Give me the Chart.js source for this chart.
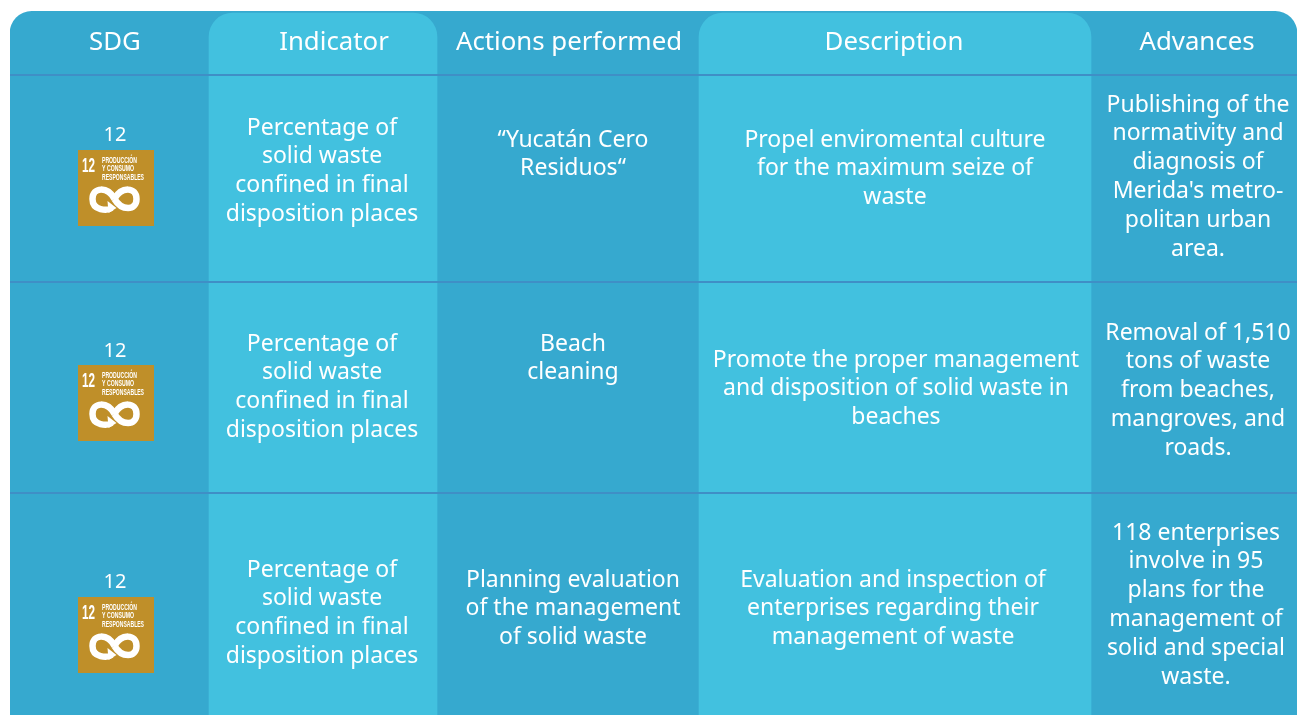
<!DOCTYPE html>
<html>
<head>
<meta charset="utf-8">
<title>SDG 12 actions</title>
<script src="https://cdn.jsdelivr.net/npm/chart.js@4/dist/chart.umd.min.js"></script>
<style>
    html, body { margin: 0; padding: 0; background: #fff; overflow: hidden; }
    canvas { display: block; }
</style>
</head>
<body>
<canvas id="tabla" width="1297" height="715"></canvas>
<script>
// table contents
const headers = ["SDG", "Indicator", "Actions performed", "Description", "Advances"];
const sdgNumbers = ["12", "12", "12"];
const iconLines = ["PRODUCCIÓN", "Y CONSUMO", "RESPONSABLES"];
const indicators = [
    ["Percentage of", "solid waste", "confined in final", "disposition places"],
    ["Percentage of", "solid waste", "confined in final", "disposition places"],
    ["Percentage of", "solid waste", "confined in final", "disposition places"]
];
const actions = [
    ["“Yucatán Cero", "Residuos“"],
    ["Beach", "cleaning"],
    ["Planning evaluation", "of the management", "of solid waste"]
];
const descriptions = [
    ["Propel enviromental culture", "for the maximum seize of", "waste"],
    ["Promote the proper management", "and disposition of solid waste in", "beaches"],
    ["Evaluation and inspection of", "enterprises regarding their", "management of waste"]
];
const advances = [
    ["Publishing of the", "normativity and", "diagnosis of", "Merida's metro-", "politan urban", "area."],
    ["Removal of 1,510", "tons of waste", "from beaches,", "mangroves, and", "roads."],
    ["118 enterprises", "involve in 95", "plans for the", "management of", "solid and special", "waste."]
];

// column bands and row rules, in axis units
const bandCenter = [653.5];
const bandSpan = [[11.4, 715]];
const lightCenters = [323, 895];
const lightSpans = [[13, 715], [13, 715]];
const rowRules = [75, 282, 493];

const DARK = "#36a9cf";
const LIGHT = "#42c1df";
const GOLD = "#bf8f29";
const FONT = '"Noto Sans"';

const headerX = [115, 334, 569, 894, 1197];
const indicatorX = 322;
const actionsX = 573;
const descriptionX = [895, 896, 893];
const advancesX = [1198, 1198, 1196];
const headerY = 43;
const lineGap = 28.8;
const firstLines = {
    indicators: [128, 344, 570],
    actions: [140, 344, 580],
    descriptions: [140, 360, 580],
    advances: [105, 333, 533]
};
const sdgX = 115;
const sdgY = [135, 351, 582];
const iconY = [150, 365, 597];

function writeLines(ctx, lines, x, y){
    for(let i = 0; i < lines.length; i++){
        ctx.fillText(lines[i], x, y + i * lineGap);
    }
}

function drawIcon(ctx, x, y){
    ctx.fillStyle = GOLD;
    ctx.fillRect(x, y, 76, 76);
    ctx.fillStyle = "#fff";
    ctx.textAlign = "left";
    ctx.textBaseline = "alphabetic";
    ctx.font = 'bold 21px "Liberation Sans"';
    ctx.fillText("12", x + 4, y + 22, 13);
    ctx.font = 'bold 8.5px "Liberation Sans"';
    ctx.fillText(iconLines[0], x + 24, y + 13, 35);
    ctx.fillText(iconLines[1], x + 24, y + 21, 32);
    ctx.fillText(iconLines[2], x + 24, y + 30, 42);

    // the infinity sign of goal 12
    let cx = x + 36.5;
    let cy = y + 49;
    ctx.strokeStyle = "#fff";
    ctx.lineWidth = 6.5;
    ctx.beginPath();
    ctx.moveTo(cx, cy);
    ctx.bezierCurveTo(cx - 7, cy - 13, cx - 22, cy - 12, cx - 22, cy);
    ctx.bezierCurveTo(cx - 22, cy + 12, cx - 7, cy + 12, cx - 3, cy + 9);
    ctx.moveTo(cx, cy);
    ctx.bezierCurveTo(cx + 7, cy - 13, cx + 22, cy - 12, cx + 22, cy);
    ctx.bezierCurveTo(cx + 22, cy + 12, cx + 7, cy + 12, cx, cy);
    ctx.stroke();
    ctx.beginPath();
    ctx.moveTo(cx - 7, cy + 2);
    ctx.lineTo(cx + 2, cy + 9);
    ctx.lineTo(cx - 6, cy + 14);
    ctx.closePath();
    ctx.fill();
}

const tableText = {
    id: "tableText",
    afterDraw(chart){
        const ctx = chart.ctx;
        ctx.save();
        ctx.fillStyle = "#fff";
        ctx.textAlign = "center";
        ctx.textBaseline = "middle";
        ctx.font = "25.8px " + FONT;
        headers.forEach(function(h, i){
            ctx.fillText(h, headerX[i], headerY);
        });
        ctx.font = "23px " + FONT;
        for(let r = 0; r < 3; r++){
            writeLines(ctx, indicators[r], indicatorX, firstLines.indicators[r]);
            writeLines(ctx, actions[r], actionsX, firstLines.actions[r]);
            writeLines(ctx, descriptions[r], descriptionX[r], firstLines.descriptions[r]);
            writeLines(ctx, advances[r], advancesX[r], firstLines.advances[r]);
        }
        for(let r = 0; r < 3; r++){
            ctx.fillStyle = "#fff";
            ctx.textAlign = "center";
            ctx.textBaseline = "middle";
            ctx.font = "20px " + FONT;
            ctx.fillText(sdgNumbers[r], sdgX, sdgY[r]);
            drawIcon(ctx, 78, iconY[r]);
        }
        ctx.restore();
    }
};

new Chart(document.getElementById("tabla").getContext("2d"), {
    type: "bar",
    data: {
        datasets: [{
            label: "band",
            data: bandCenter.map(function(x, i){ return {x: x, y: bandSpan[i]}; }),
            backgroundColor: DARK,
            barThickness: 1287,
            borderSkipped: false,
            borderRadius: {topLeft: 22, topRight: 22, bottomLeft: 0, bottomRight: 0},
            order: 2
        }, {
            label: "Indicator",
            data: [{x: lightCenters[0], y: lightSpans[0]}],
            backgroundColor: LIGHT,
            barThickness: 228,
            borderSkipped: false,
            borderRadius: {topLeft: 24, topRight: 24, bottomLeft: 0, bottomRight: 0},
            order: 1
        }, {
            label: "Description",
            data: [{x: lightCenters[1], y: lightSpans[1]}],
            backgroundColor: LIGHT,
            barThickness: 392,
            borderSkipped: false,
            borderRadius: {topLeft: 24, topRight: 24, bottomLeft: 0, bottomRight: 0},
            order: 1
        }]
    },
    options: {
        responsive: false,
        animation: false,
        layout: {padding: {left: 10}},
        plugins: {legend: {display: false}, tooltip: {enabled: false}, title: {display: false}},
        datasets: {bar: {grouped: false}},
        scales: {
            x: {type: "linear", min: 10, max: 1297, display: false, offset: false},
            y: {
                type: "linear",
                reverse: true,
                min: 0,
                max: 715,
                afterBuildTicks: function(scale){
                    scale.ticks = rowRules.map(function(v){ return {value: v}; });
                },
                ticks: {display: false},
                border: {display: false},
                grid: {color: "#3f8fc6", lineWidth: 2, drawTicks: false, z: 1}
            }
        }
    },
    plugins: [tableText]
});
</script>
</body>
</html>
